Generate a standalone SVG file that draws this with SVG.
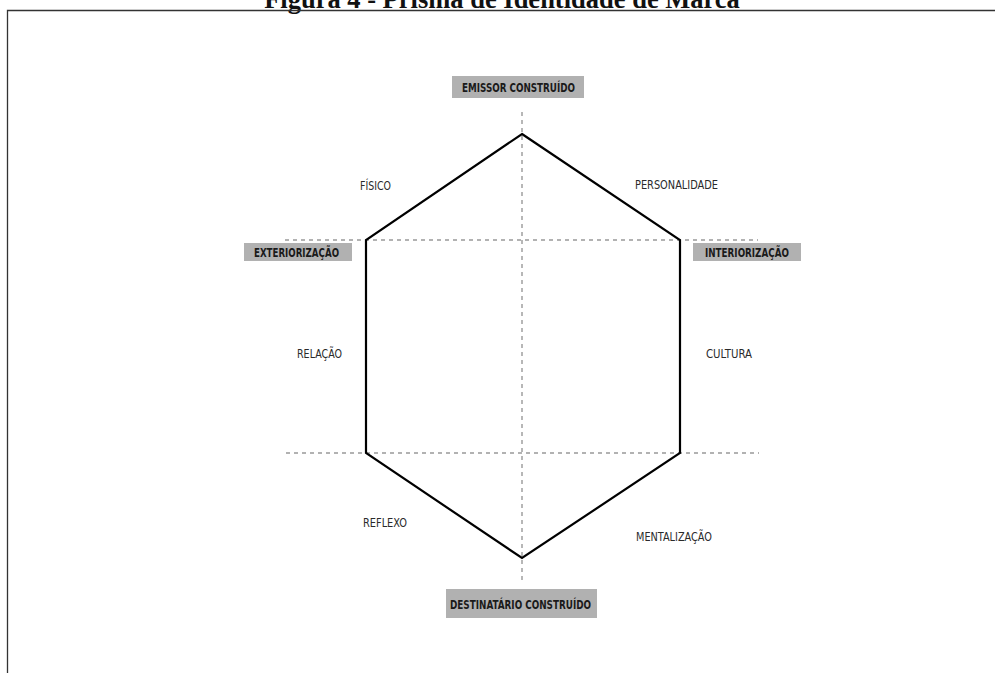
<svg xmlns="http://www.w3.org/2000/svg" width="995" height="673" viewBox="0 0 995 673">
<style>
.title{font-family:"Liberation Serif","Times New Roman",serif;font-weight:bold;font-size:26.5px;fill:#111}
.frame{stroke:#333;stroke-width:1.3;fill:none}
.axis{stroke:#999;stroke-width:1.4;stroke-dasharray:4 4;fill:none}
.hex{stroke:#000;stroke-width:2.2;fill:none;stroke-linejoin:miter}
.box{fill:#b1b1b1}
.bl{font-family:"Liberation Sans Narrow","DejaVu Sans Condensed","Liberation Sans",sans-serif;font-weight:bold;font-size:13px;fill:#1a1a1a}
.lb{font-family:"Liberation Sans Narrow","DejaVu Sans Condensed","Liberation Sans",sans-serif;font-size:11.5px;fill:#2a2a2a}
</style>
<rect width="995" height="673" fill="#fff"/>
<text class="title" x="502" y="8" text-anchor="middle">Figura 4 - Prisma de Identidade de Marca</text>
<path class="frame" d="M7.5 673 V10.5 H995"/>
<g id="connectors">
<path class="axis" d="M522 112 V584"/>
<path class="axis" d="M285 240 H758"/>
<path class="axis" d="M286 453 H759"/>
<path class="hex" d="M522 134 L680 240 L680 453 L522 558 L366 453 L366 240 Z"/>
</g>
<g id="emissor">
<rect class="box" x="452" y="76" width="132" height="22"/>
<text class="bl" x="462" y="92" textLength="113" lengthAdjust="spacingAndGlyphs">EMISSOR CONSTRUÍDO</text>
</g>
<g id="exteriorizacao">
<rect class="box" x="244" y="243" width="108" height="18"/>
<text class="bl" x="254" y="257" textLength="85" lengthAdjust="spacingAndGlyphs">EXTERIORIZAÇÃO</text>
</g>
<g id="interiorizacao">
<rect class="box" x="693" y="243" width="108" height="18"/>
<text class="bl" x="705" y="257" textLength="84" lengthAdjust="spacingAndGlyphs">INTERIORIZAÇÃO</text>
</g>
<g id="destinatario">
<rect class="box" x="446" y="589" width="151" height="29"/>
<text class="bl" x="450" y="609" textLength="141" lengthAdjust="spacingAndGlyphs">DESTINATÁRIO CONSTRUÍDO</text>
</g>
<g id="fisico"><text class="lb" x="360" y="190" textLength="31" lengthAdjust="spacingAndGlyphs">FÍSICO</text></g>
<g id="personalidade"><text class="lb" x="635" y="189" textLength="83" lengthAdjust="spacingAndGlyphs">PERSONALIDADE</text></g>
<g id="relacao"><text class="lb" x="297" y="358" textLength="45" lengthAdjust="spacingAndGlyphs">RELAÇÃO</text></g>
<g id="cultura"><text class="lb" x="706" y="358" textLength="46" lengthAdjust="spacingAndGlyphs">CULTURA</text></g>
<g id="reflexo"><text class="lb" x="363" y="527" textLength="44" lengthAdjust="spacingAndGlyphs">REFLEXO</text></g>
<g id="mentalizacao"><text class="lb" x="636" y="541" textLength="76" lengthAdjust="spacingAndGlyphs">MENTALIZAÇÃO</text></g>
</svg>
